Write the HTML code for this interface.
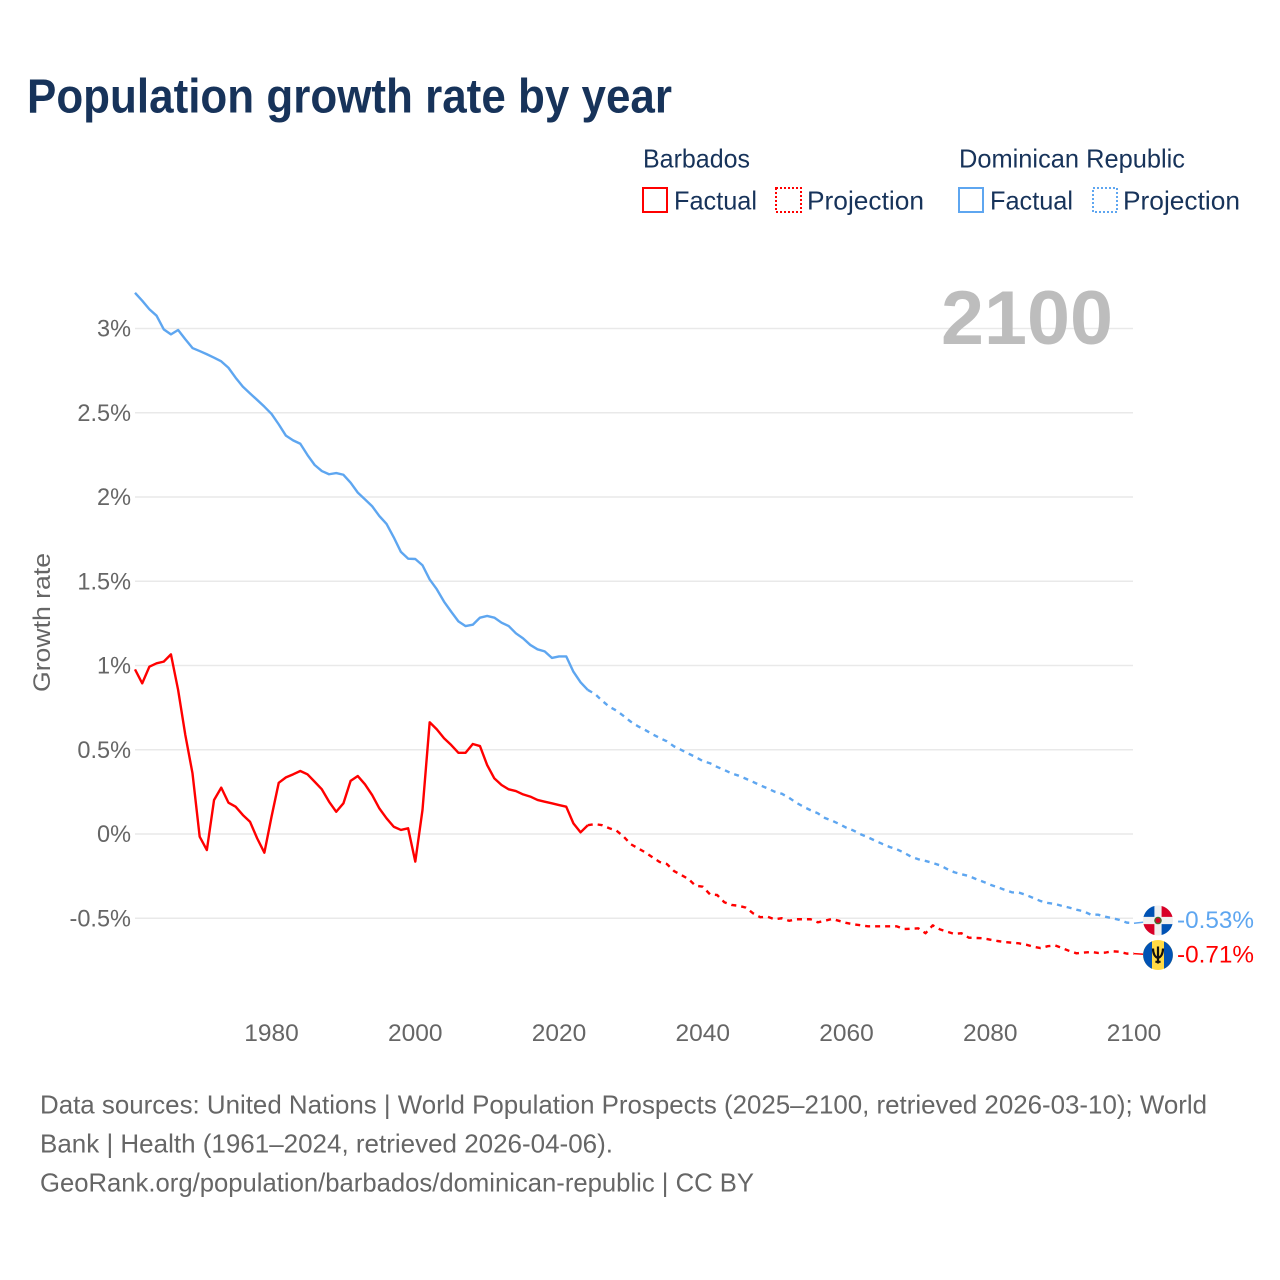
<!DOCTYPE html>
<html lang="en">
<head>
<meta charset="utf-8">
<title>Population growth rate by year</title>
<style>
html,body{margin:0;padding:0;background:#fff;}
svg{display:block;font-family:"Liberation Sans",sans-serif;}
.legend{fill:#17335a;font-size:26px;}
.foot{fill:#666;font-size:26px;}
.tick{fill:#666;font-size:24.5px;}
</style>
</head>
<body>
<svg id="chart" xmlns="http://www.w3.org/2000/svg" width="1280" height="1280" viewBox="0 0 1280 1280">
  <rect x="0" y="0" width="1280" height="1280" fill="#fff"/>
  <text x="27" y="112.5" font-size="48" font-weight="700" fill="#17335a" textLength="645" lengthAdjust="spacingAndGlyphs">Population growth rate by year</text>

  <g>
    <text class="legend" x="643" y="167.5" textLength="107" lengthAdjust="spacingAndGlyphs">Barbados</text>
    <rect x="643" y="188" width="24" height="24" fill="none" stroke="#ff0000" stroke-width="2"/>
    <text class="legend" x="674" y="209.5" textLength="83" lengthAdjust="spacingAndGlyphs">Factual</text>
    <rect x="776" y="188" width="25" height="24" fill="none" stroke="#ff0000" stroke-width="2" stroke-dasharray="2 2"/>
    <text class="legend" x="807" y="209.5" textLength="117" lengthAdjust="spacingAndGlyphs">Projection</text>
    <text class="legend" x="959" y="167.5" textLength="226" lengthAdjust="spacingAndGlyphs">Dominican Republic</text>
    <rect x="959" y="188" width="24" height="24" fill="none" stroke="#5ea6f0" stroke-width="2"/>
    <text class="legend" x="990" y="209.5" textLength="83" lengthAdjust="spacingAndGlyphs">Factual</text>
    <rect x="1093" y="188" width="24" height="24" fill="none" stroke="#5ea6f0" stroke-width="2" stroke-dasharray="2 2"/>
    <text class="legend" x="1123" y="209.5" textLength="117" lengthAdjust="spacingAndGlyphs">Projection</text>
  </g>

  <g id="grid"></g>
  <g id="yticks"></g>
  <g id="xticks"></g>

  <text transform="translate(50,622.5) rotate(-90)" text-anchor="middle" font-size="24.5" fill="#666" textLength="139" lengthAdjust="spacingAndGlyphs">Growth rate</text>
  <text x="941" y="344" font-size="76" font-weight="700" fill="#bdbdbd" textLength="172" lengthAdjust="spacingAndGlyphs">2100</text>

  <g id="series" fill="none" stroke-width="2.4" stroke-linejoin="round"></g>

  <g id="flag-dominican">
    <circle r="15" fill="#f0f0f0"/>
    <path d="M-3.6 -3.6H-14.5A15 15 0 0 1 -3.6 -14.5Z" fill="#0052b4"/>
    <path d="M3.6 -3.6H14.5A15 15 0 0 0 3.6 -14.5Z" fill="#d80027"/>
    <path d="M-3.6 3.6H-14.5A15 15 0 0 0 -3.6 14.5Z" fill="#d80027"/>
    <path d="M3.6 3.6H14.5A15 15 0 0 1 3.6 14.5Z" fill="#0052b4"/>
    <circle r="3.8" fill="#496e2d"/>
    <circle r="2.4" fill="#d80027"/>
  </g>
  <g id="flag-barbados">
    <circle r="15" fill="#ffda44"/>
    <path d="M-6 -13.7A15 15 0 0 0 -6 13.7Z" fill="#0052b4"/>
    <path d="M6 -13.7A15 15 0 0 1 6 13.7Z" fill="#0052b4"/>
    <path d="M-5 -6.5C-5 -1.5 -3 2.2 0 2.8C3 2.2 5 -1.5 5 -6.5M0 -8.5V8.5M-2.6 6.8H2.6" fill="none" stroke="#111" stroke-width="2.2"/>
  </g>
  <text id="label-dominican" x="1177" font-size="24.5" fill="#5ea6f0" textLength="77" lengthAdjust="spacingAndGlyphs"></text>
  <text id="label-barbados" x="1177" font-size="24.5" fill="#ff0000" textLength="77" lengthAdjust="spacingAndGlyphs"></text>

  <g>
    <text class="foot" x="40" y="1113.5" textLength="1167" lengthAdjust="spacingAndGlyphs">Data sources: United Nations | World Population Prospects (2025–2100, retrieved 2026-03-10); World</text>
    <text class="foot" x="40" y="1152.5" textLength="573" lengthAdjust="spacingAndGlyphs">Bank | Health (1961–2024, retrieved 2026-04-06).</text>
    <text class="foot" x="40" y="1191.5" textLength="714" lengthAdjust="spacingAndGlyphs">GeoRank.org/population/barbados/dominican-republic | CC BY</text>
  </g>
</svg>
<script>
const firstFactualYear = 1961;
const firstProjectionYear = 2025;
const xTickYears = [1980, 2000, 2020, 2040, 2060, 2080, 2100];
const yTickValues = [3, 2.5, 2, 1.5, 1, 0.5, 0, -0.5];
const yTickLabels = ['3%', '2.5%', '2%', '1.5%', '1%', '0.5%', '0%', '-0.5%'];
const endLabels = ['-0.53%', '-0.71%'];

const barbadosFactual = [
  0.977,0.894,0.993,1.013,1.023,1.066,0.855,0.588,0.360,-0.016,
  -0.095,0.202,0.275,0.186,0.162,0.113,0.073,-0.026,-0.111,0.103,
  0.304,0.336,0.354,0.374,0.354,0.310,0.265,0.192,0.132,0.182,
  0.315,0.344,0.295,0.231,0.152,0.093,0.043,0.024,0.034,-0.164,
  0.142,0.663,0.621,0.568,0.528,0.482,0.482,0.534,0.522,0.409,
  0.330,0.291,0.265,0.255,0.235,0.222,0.202,0.192,0.182,0.172,
  0.162,0.063,0.010,0.052
];
const barbadosProjection = [
  0.059,0.052,0.034,0.020,-0.016,-0.061,-0.085,-0.109,-0.138,-0.166,
  -0.178,-0.220,-0.243,-0.267,-0.307,-0.313,-0.358,-0.362,-0.405,-0.421,
  -0.426,-0.437,-0.471,-0.494,-0.491,-0.506,-0.500,-0.515,-0.506,-0.506,
  -0.506,-0.524,-0.515,-0.504,-0.516,-0.528,-0.536,-0.542,-0.548,-0.548,
  -0.548,-0.548,-0.548,-0.564,-0.562,-0.560,-0.589,-0.542,-0.566,-0.580,
  -0.593,-0.589,-0.615,-0.617,-0.619,-0.627,-0.635,-0.641,-0.645,-0.649,
  -0.657,-0.669,-0.677,-0.666,-0.661,-0.677,-0.694,-0.708,-0.704,-0.700,
  -0.706,-0.704,-0.696,-0.699,-0.710,-0.710
];
const dominicanFactual = [
  3.212,3.165,3.114,3.076,2.995,2.965,2.991,2.936,2.884,2.866,
  2.847,2.827,2.805,2.767,2.708,2.655,2.615,2.576,2.536,2.493,
  2.431,2.364,2.336,2.316,2.249,2.190,2.154,2.135,2.142,2.132,
  2.085,2.026,1.986,1.945,1.887,1.840,1.761,1.674,1.634,1.632,
  1.595,1.511,1.452,1.379,1.319,1.262,1.234,1.242,1.284,1.294,
  1.284,1.254,1.234,1.191,1.161,1.122,1.096,1.084,1.045,1.054,
  1.054,0.963,0.900,0.855
];
const dominicanProjection = [
  0.831,0.791,0.755,0.732,0.700,0.666,0.639,0.617,0.592,0.570,
  0.550,0.520,0.499,0.477,0.457,0.433,0.420,0.398,0.380,0.360,
  0.346,0.328,0.309,0.289,0.271,0.251,0.239,0.215,0.186,0.162,
  0.141,0.123,0.095,0.079,0.059,0.037,0.020,-0.002,-0.020,-0.040,
  -0.059,-0.077,-0.091,-0.111,-0.135,-0.150,-0.160,-0.172,-0.186,-0.208,
  -0.227,-0.239,-0.249,-0.267,-0.283,-0.301,-0.316,-0.331,-0.346,-0.348,
  -0.362,-0.380,-0.398,-0.409,-0.415,-0.427,-0.437,-0.449,-0.459,-0.479,
  -0.479,-0.491,-0.500,-0.510,-0.526,-0.530
];

const NS = 'http://www.w3.org/2000/svg';
function xScale(year) { return 135 + (year - 1961) * 7.187; }
function yScale(value) { return 834 - value * 168.5; }
function pathFrom(startYear, values, leadYear, leadValue) {
  let d = '';
  if (leadYear !== undefined) {
    d = 'M' + xScale(leadYear).toFixed(2) + ' ' + yScale(leadValue).toFixed(2);
  }
  values.forEach(function (v, i) {
    d += (d ? 'L' : 'M') + xScale(startYear + i).toFixed(2) + ' ' + yScale(v).toFixed(2);
  });
  return d;
}

const grid = document.getElementById('grid');
const yticks = document.getElementById('yticks');
const xticks = document.getElementById('xticks');
const series = document.getElementById('series');

yTickValues.forEach(function (v, i) {
  const line = document.createElementNS(NS, 'line');
  
  
  line.setAttribute('x1', 135);
  line.setAttribute('x2', 1133);
  line.setAttribute('y1', yScale(v));
  line.setAttribute('y2', yScale(v));
  line.setAttribute('stroke', '#e9e9e9');
  line.setAttribute('stroke-width', 1.5);
  grid.appendChild(line);

  const label = document.createElementNS(NS, 'text');
  
  
  label.setAttribute('class', 'tick');
  label.setAttribute('x', 131);
  label.setAttribute('y', yScale(v) + 8);
  label.setAttribute('text-anchor', 'end');
  label.textContent = yTickLabels[i];
  yticks.appendChild(label);
  label.setAttribute('lengthAdjust', 'spacingAndGlyphs');
  label.setAttribute('textLength', (label.getComputedTextLength() * 0.96).toFixed(1));
});

xTickYears.forEach(function (year) {
  const label = document.createElementNS(NS, 'text');
  
  
  label.setAttribute('class', 'tick');
  label.setAttribute('x', xScale(year));
  label.setAttribute('y', 1041);
  label.setAttribute('text-anchor', 'middle');
  label.textContent = String(year);
  xticks.appendChild(label);
});

function lastOf(values) { return values[values.length - 1]; }

const factualEndYear = firstFactualYear + barbadosFactual.length - 1;

const lineBarbadosFactual = document.createElementNS(NS, 'path');


lineBarbadosFactual.setAttribute('d', pathFrom(firstFactualYear, barbadosFactual));
lineBarbadosFactual.setAttribute('stroke', '#ff0000');
series.appendChild(lineBarbadosFactual);

const lineBarbadosProjection = document.createElementNS(NS, 'path');


lineBarbadosProjection.setAttribute('d', pathFrom(firstProjectionYear, barbadosProjection, factualEndYear, lastOf(barbadosFactual)));
lineBarbadosProjection.setAttribute('stroke', '#ff0000');
lineBarbadosProjection.setAttribute('stroke-dasharray', '5 5');
series.appendChild(lineBarbadosProjection);

const lineDominicanFactual = document.createElementNS(NS, 'path');


lineDominicanFactual.setAttribute('d', pathFrom(firstFactualYear, dominicanFactual));
lineDominicanFactual.setAttribute('stroke', '#5ea6f0');
series.appendChild(lineDominicanFactual);

const lineDominicanProjection = document.createElementNS(NS, 'path');


lineDominicanProjection.setAttribute('d', pathFrom(firstProjectionYear, dominicanProjection, factualEndYear, lastOf(dominicanFactual)));
lineDominicanProjection.setAttribute('stroke', '#5ea6f0');
lineDominicanProjection.setAttribute('stroke-dasharray', '5 5');
series.appendChild(lineDominicanProjection);

const endYear = firstProjectionYear + barbadosProjection.length - 1;
const endX = xScale(endYear);
const flagX = endX + 24;
const dominicanEndY = yScale(lastOf(dominicanProjection));
const barbadosEndY = yScale(lastOf(barbadosProjection));
const dominicanFlagY = dominicanEndY - 2.8;
const barbadosFlagY = barbadosEndY + 1.4;

const tailDominican = document.createElementNS(NS, 'line');


tailDominican.setAttribute('x1', endX);
tailDominican.setAttribute('y1', dominicanEndY);
tailDominican.setAttribute('x2', flagX);
tailDominican.setAttribute('y2', dominicanFlagY);
tailDominican.setAttribute('stroke', '#5ea6f0');
tailDominican.setAttribute('stroke-width', 1.5);
series.appendChild(tailDominican);

const tailBarbados = document.createElementNS(NS, 'line');


tailBarbados.setAttribute('x1', endX);
tailBarbados.setAttribute('y1', barbadosEndY);
tailBarbados.setAttribute('x2', flagX);
tailBarbados.setAttribute('y2', barbadosFlagY);
tailBarbados.setAttribute('stroke', '#ff0000');
tailBarbados.setAttribute('stroke-width', 1.5);
series.appendChild(tailBarbados);

document.getElementById('flag-dominican').setAttribute('transform', 'translate(' + flagX + ',' + dominicanFlagY + ')');
document.getElementById('flag-barbados').setAttribute('transform', 'translate(' + flagX + ',' + barbadosFlagY + ')');
const labelDominican = document.getElementById('label-dominican');
labelDominican.setAttribute('y', dominicanFlagY + 7.5);
labelDominican.textContent = endLabels[0];
const labelBarbados = document.getElementById('label-barbados');
labelBarbados.setAttribute('y', barbadosFlagY + 7.5);
labelBarbados.textContent = endLabels[1];
</script>
</body>
</html>
